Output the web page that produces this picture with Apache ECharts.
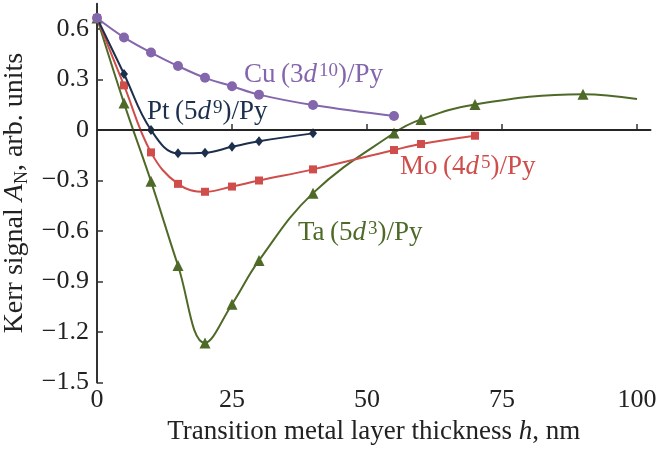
<!DOCTYPE html>
<html>
<head>
<meta charset="utf-8">
<script src="https://cdn.jsdelivr.net/npm/echarts@6/dist/echarts.min.js"></script>
<style>html,body{margin:0;padding:0;background:#fff}#c{width:656px;height:450px}</style>
</head>
<body>
<div id="c"></div>
<script>
// ---- data ----
var cuX = [0, 5, 10, 15, 20, 25, 30, 40, 55];
var cuY = [0.665, 0.55, 0.46, 0.38, 0.31, 0.26, 0.21, 0.148, 0.083];
var ptX = [0, 5, 10, 15, 20, 25, 30, 40];
var ptY = [0.665, 0.333, 0.0, -0.138, -0.135, -0.10, -0.067, -0.02];
var moX = [0, 5, 10, 15, 20, 25, 30, 40, 55, 60, 70];
var moY = [0.665, 0.265, -0.133, -0.32, -0.367, -0.336, -0.30, -0.234, -0.119, -0.083, -0.034];
var taX = [0, 5, 10, 15, 20, 25, 30, 40, 55, 60, 70, 90, 100];
var taY = [0.665, 0.16, -0.305, -0.805, -1.265, -1.035, -0.775, -0.375, -0.018, 0.063, 0.152, 0.212, 0.184];
var taMarked = [1, 1, 1, 1, 1, 1, 1, 1, 1, 1, 1, 1, 0];
var xTicks = [0, 25, 50, 75, 100];
var yTicks = [-1.5, -1.2, -0.9, -0.6, -0.3, 0, 0.3, 0.6];

var FONT = '"Liberation Serif", "Times New Roman", serif';
var cCu = '#8466ad', cPt = '#1c2f4c', cMo = '#cf4e4b', cTa = '#4f6a28';

function pairs(xs, ys) { return xs.map(function (x, i) { return [x, ys[i]]; }); }
function fmtY(v) {
  var r = Math.round(v * 10) / 10;
  if (r === 0) return '0';
  return String(r).replace('-', '\u2212');
}

var chart = echarts.init(document.getElementById('c'), null, { renderer: 'canvas' });

function lineSeries(name, data, color, symbol, size, z) {
  return {
    name: name, type: 'line', data: data, smooth: 0.4, z: z,
    symbol: symbol, symbolSize: size, showSymbol: true,
    lineStyle: { color: color, width: 2 },
    itemStyle: { color: color },
    emphasis: { disabled: true }, animation: false
  };
}

var taData = pairs(taX, taY).map(function (p, i) {
  return taMarked[i] ? p : { value: p, symbol: 'none' };
});

function richFor(color) {
  return {
    n: { fontSize: 27, fontFamily: FONT, fill: color, lineHeight: 27 },
    i: { fontSize: 27, fontFamily: FONT, fontStyle: 'italic', fill: color, lineHeight: 27, padding: [0, 2, 0, 0] },
    s: { fontSize: 19, fontFamily: FONT, fill: color, verticalAlign: 'top', lineHeight: 27, padding: [0, 0, 5, 0] }
  };
}
function label(x, y, text, color) {
  return {
    type: 'text', x: x, y: y, silent: true, z: 100,
    style: { text: text, rich: richFor(color), fill: color, fontSize: 27, fontFamily: FONT, verticalAlign: 'middle', align: 'left' }
  };
}

var option = {
  animation: false,
  backgroundColor: '#fff',
  grid: { left: 97, right: 5.5, top: 3.75, bottom: 67.5, containLabel: false, outerBoundsMode: 'none' },
  xAxis: {
    type: 'value', min: 0, max: 102.5,
    name: 'Transition metal layer thickness {i|h}, nm',
    nameLocation: 'middle', nameGap: 36,
    nameTextStyle: {
      fontFamily: FONT, fontSize: 27, color: '#222',
      rich: { i: { fontFamily: FONT, fontSize: 27, fontStyle: 'italic', color: '#222' } }
    },
    axisLine: { lineStyle: { color: '#333', width: 2 } },
    axisTick: { inside: true, length: 6, customValues: xTicks, lineStyle: { color: '#333', width: 1.5 } },
    axisLabel: { customValues: xTicks, fontFamily: FONT, fontSize: 26, color: '#222', margin: 5 },
    splitLine: { show: false }
  },
  yAxis: {
    type: 'value', min: -1.5, max: 0.75,
    name: 'Kerr signal {i|A}{sub|N}, arb. units',
    nameLocation: 'middle', nameGap: 61,
    nameTextStyle: {
      fontFamily: FONT, fontSize: 28, color: '#222',
      rich: {
        i: { fontFamily: FONT, fontSize: 28, fontStyle: 'italic', color: '#222', lineHeight: 32 },
        sub: { fontFamily: FONT, fontSize: 18, color: '#222', verticalAlign: 'bottom', lineHeight: 32 }
      }
    },
    axisLine: { lineStyle: { color: '#333', width: 2 } },
    axisTick: { inside: true, length: 6, customValues: yTicks, lineStyle: { color: '#333', width: 1.5 } },
    axisLabel: { customValues: yTicks, fontFamily: FONT, fontSize: 26, color: '#222', margin: 8, formatter: fmtY },
    splitLine: { show: false }
  },
  series: [
    Object.assign(lineSeries('Ta', taData, cTa, 'triangle', 11, 2), {
      markLine: {
        silent: true, symbol: 'none', animation: false, label: { show: false },
        lineStyle: { color: '#222', width: 1.5, type: 'solid' },
        data: [{ yAxis: 0 }]
      }
    }),
    lineSeries('Mo', pairs(moX, moY), cMo, 'rect', 8, 3),
    lineSeries('Pt', pairs(ptX, ptY), cPt, 'diamond', [8, 10], 4),
    lineSeries('Cu', pairs(cuX, cuY), cCu, 'circle', 10, 5)
  ],
  graphic: [
    label(244, 75, '{n|Cu\u2009(3}{i|d}{s|10}{n|)/Py}', cCu),
    label(147, 112, '{n|Pt\u2009(5}{i|d}{s|9}{n|)/Py}', cPt),
    label(400, 167, '{n|Mo\u2009(4}{i|d}{s|5}{n|)/Py}', cMo),
    label(298, 233, '{n|Ta\u2009(5}{i|d}{s|3}{n|)/Py}', cTa)
  ]
};
chart.setOption(option);
</script>
</body>
</html>
